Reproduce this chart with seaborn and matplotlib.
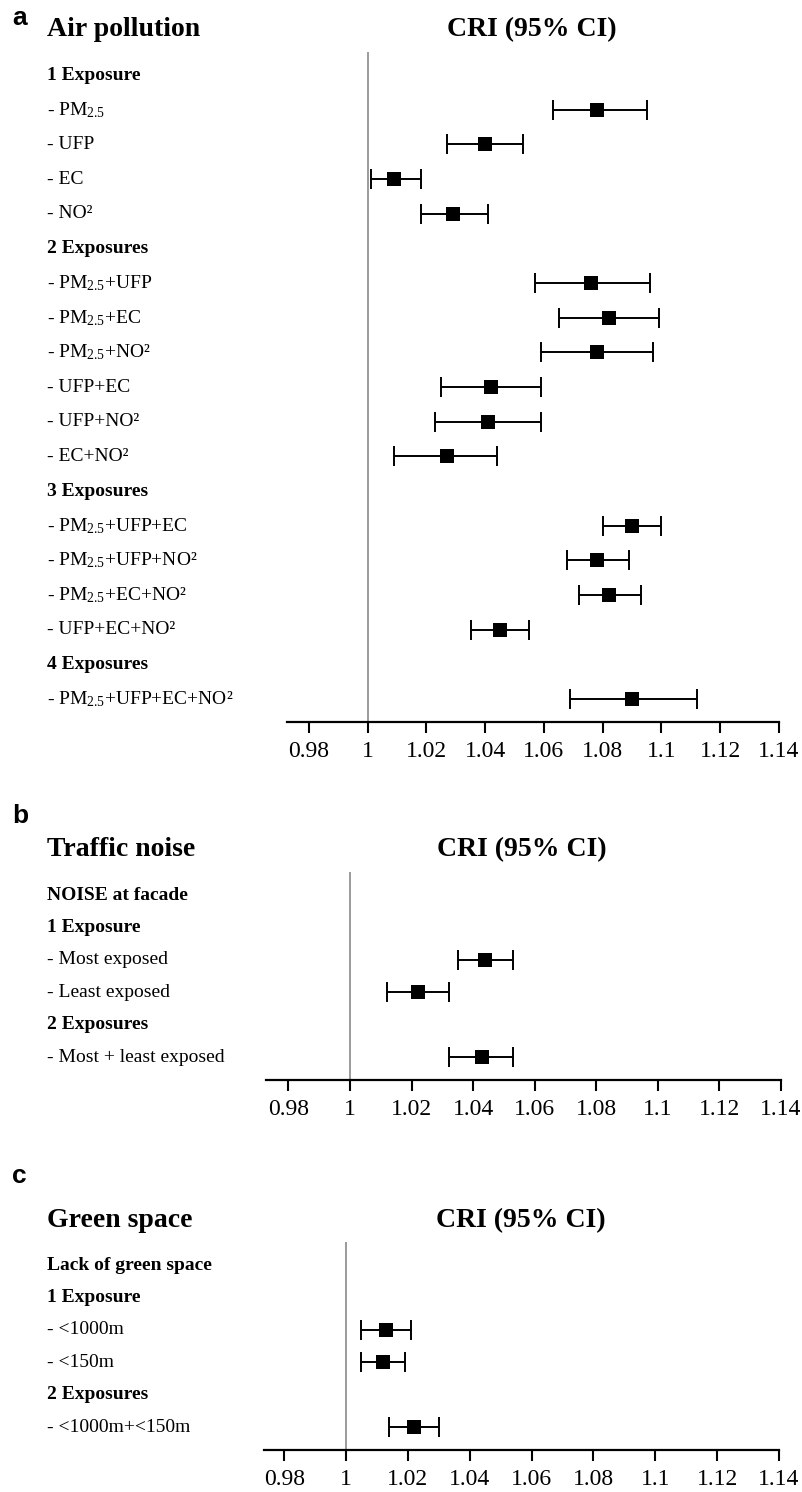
import matplotlib
matplotlib.use('Agg')
import matplotlib.pyplot as plt
import matplotlib.transforms as mtransforms
import seaborn as sns
import pandas as pd

W, H = 803, 1492

PM = 'PM$_\\mathregular{2.5}$'

# panel a: air pollution
air_rows = ['1 Exposure', f'- {PM}', '- UFP', '- EC', '- NO²',
            '2 Exposures', f'- {PM}+UFP', f'- {PM}+EC', f'- {PM}+NO²',
            '- UFP+EC', '- UFP+NO²', '- EC+NO²',
            '3 Exposures', f'- {PM}+UFP+EC', f'- {PM}+UFP+NO²', f'- {PM}+EC+NO²',
            '- UFP+EC+NO²',
            '4 Exposures', f'- {PM}+UFP+EC+NO²']
air_headers = ['1 Exposure', '2 Exposures', '3 Exposures', '4 Exposures']
air_cri = [1.078, 1.040, 1.009, 1.029, 1.076, 1.082, 1.078, 1.042, 1.041,
           1.027, 1.090, 1.078, 1.082, 1.045, 1.090]
air_lo = [1.063, 1.027, 1.001, 1.018, 1.057, 1.065, 1.059, 1.025, 1.023,
          1.009, 1.080, 1.068, 1.072, 1.035, 1.069]
air_hi = [1.095, 1.053, 1.018, 1.041, 1.096, 1.099, 1.097, 1.059, 1.059,
          1.044, 1.100, 1.089, 1.093, 1.055, 1.112]

# panel b: traffic noise
noise_rows = ['NOISE at facade', '1 Exposure', '- Most exposed', '- Least exposed',
              '2 Exposures', '- Most + least exposed']
noise_headers = ['NOISE at facade', '1 Exposure', '2 Exposures']
noise_cri = [1.044, 1.022, 1.043]
noise_lo = [1.035, 1.012, 1.032]
noise_hi = [1.053, 1.032, 1.053]

# panel c: green space
green_rows = ['Lack of green space', '1 Exposure', '- <1000m', '- <150m',
              '2 Exposures', '- <1000m+<150m']
green_headers = ['Lack of green space', '1 Exposure', '2 Exposures']
green_cri = [1.013, 1.012, 1.022]
green_lo = [1.005, 1.005, 1.014]
green_hi = [1.021, 1.019, 1.030]

x_ticks = [0.98, 1.00, 1.02, 1.04, 1.06, 1.08, 1.10, 1.12, 1.14]
x_tick_labels = ['0.98', '1', '1.02', '1.04', '1.06', '1.08', '1.1', '1.12', '1.14']

sns.set_style('white')
plt.rcParams['font.family'] = ['Liberation Serif', 'DejaVu Serif']
plt.rcParams['text.color'] = 'black'
plt.rcParams['xtick.color'] = 'black'
plt.rcParams['axes.labelcolor'] = 'black'
plt.rcParams['mathtext.fontset'] = 'custom'
plt.rcParams['mathtext.rm'] = 'Liberation Serif'
plt.rcParams['mathtext.it'] = 'Liberation Serif:italic'
plt.rcParams['mathtext.bf'] = 'Liberation Serif:bold'

fig = plt.figure(figsize=(W / 100, H / 100), dpi=100)


def panel(rows, headers, cri, lo, hi, letter, title, letter_base, title_base,
          cri_x, left, right, top, bottom, row0, step, xmin):
    ax = fig.add_axes([left / W, 1 - bottom / H, (right - left) / W, (bottom - top) / H])
    data_rows = [i for i, r in enumerate(rows) if r not in headers]
    df = pd.DataFrame({'row': data_rows, 'cri': cri, 'lo': lo, 'hi': hi})

    ax.axvline(1, color='#8a8a8a', lw=1.2, zorder=1)
    ax.errorbar(df['cri'], df['row'], xerr=[df['cri'] - df['lo'], df['hi'] - df['cri']],
                fmt='none', ecolor='black', elinewidth=1.4, capsize=7.5, capthick=1.4,
                zorder=2)
    sns.scatterplot(data=df, x='cri', y='row', marker='s', s=95, color='black',
                    linewidth=0, ax=ax, zorder=3)

    ax.set_xlim(xmin, 1.14)
    ax.set_ylim((bottom - row0) / step, (top - row0) / step)
    ax.set_xticks(x_ticks)
    ax.set_xticklabels(x_tick_labels)
    ax.set_yticks([])
    ax.set_xlabel('')
    ax.set_ylabel('')
    for s in ['left', 'top', 'right']:
        ax.spines[s].set_visible(False)
    ax.spines['bottom'].set_linewidth(1.6)
    ax.spines['bottom'].set_color('black')
    ax.tick_params(axis='x', direction='out', length=8, width=1.5, color='black',
                   labelcolor='black', labelsize=17, pad=6, bottom=True)

    trans = mtransforms.blended_transform_factory(fig.transFigure, ax.transData)
    for i, r in enumerate(rows):
        ax.text(47 / W, i, r, transform=trans, fontsize=14, va='center', ha='left',
                fontweight='bold' if r in headers else 'normal', clip_on=False)

    fig.text(12 / W, 1 - letter_base / H, letter, fontsize=19, fontweight='bold',
             family='Liberation Sans', va='baseline', ha='left')
    fig.text(47 / W, 1 - title_base / H, title, fontsize=20, fontweight='bold',
             va='baseline', ha='left')
    fig.text(cri_x / W, 1 - title_base / H, 'CRI (95% CI)', fontsize=20,
             fontweight='bold', va='baseline', ha='center')


panel(air_rows, air_headers, air_cri, air_lo, air_hi, 'a', 'Air pollution', 25, 36,
      532, 287, 779, 52, 722, 75, 34.67, 0.97253)
panel(noise_rows, noise_headers, noise_cri, noise_lo, noise_hi, 'b', 'Traffic noise', 823, 856,
      522, 266, 781, 872, 1080, 895, 32.4, 0.97272)
panel(green_rows, green_headers, green_cri, green_lo, green_hi, 'c', 'Green space', 1183, 1227,
      521, 264, 779, 1242, 1450, 1265, 32.4, 0.97349)

fig.savefig('out.png', dpi=100)
